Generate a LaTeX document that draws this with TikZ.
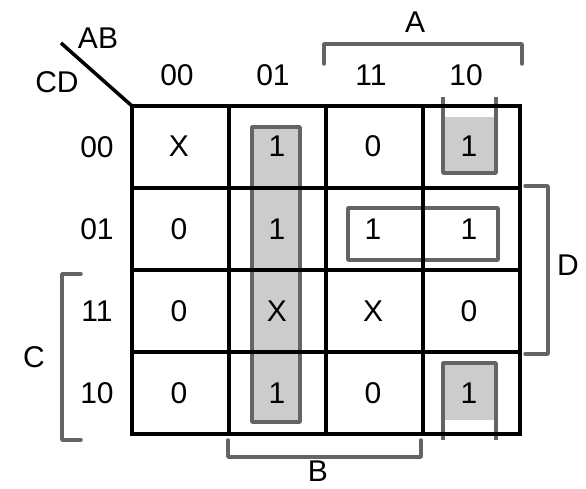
\documentclass[tikz,border=0pt]{standalone}
\usepackage{fontspec}
\setmainfont{Liberation Sans}
\usepackage{tikz}
\usetikzlibrary{positioning}
\usepackage{xcolor}
\definecolor{mygray}{RGB}{100,100,100}
\definecolor{mylight}{RGB}{204,204,204}

\begin{document}
\begin{tikzpicture}[x=1pt,y=-1pt,
  every node/.style={font=\fontsize{30}{36}\selectfont, inner sep=0pt},
  gridline/.style={line width=4pt, line cap=rect},
  groupline/.style={draw=mygray, line width=3.5pt, line join=round},
  bracket/.style={draw=mygray, line width=3.5pt, line join=round, line cap=round}]
  \useasboundingbox (0,0) rectangle (586,488);

  \fill[mylight] (252,127) rectangle (300,422);
  \draw[groupline] (252,127) rectangle (300,422);
  \draw[groupline] (348,208) rectangle (498,260);
  \fill[mylight] (443,117) rectangle (496,173);
  \draw[groupline] (443,97) -- (443,173) -- (496,173) -- (496,97);
  \fill[mylight] (443,363) rectangle (496,420);
  \draw[groupline] (443,440) -- (443,363) -- (496,363) -- (496,440);

  \foreach \x in {132,229,326,423,520} \draw[gridline] (\x,106) -- (\x,434);
  \foreach \y in {106,188,270,352,434} \draw[gridline] (132,\y) -- (520,\y);

  \coordinate (corner) at (132,106);
  \coordinate (tip) at (61,43);
  \draw[line width=3.5pt] (tip) -- (corner);
  \node (ab) at (98,38) {AB};
  \node (cd) at (57,82) {CD};

  \node (h00) at (177,75) {00};
  \node (h01) at (273,75) {01};
  \node (h11) at (371,75) {11};
  \node (h10) at (466,75) {10};
  \node (v00) at (97,147) {00};
  \node (v01) at (97,229) {01};
  \node (v11) at (97,311) {11};
  \node (v10) at (97,393) {10};

  \node (m00-00) at (179,146) {X};
  \node (m00-01) at (277,146) {1};
  \node (m00-11) at (373,146) {0};
  \node (m00-10) at (469,146) {1};
  \node (m01-00) at (179,229) {0};
  \node (m01-01) at (277,229) {1};
  \node (m01-11) at (373,229) {1};
  \node (m01-10) at (469,229) {1};
  \node (m11-00) at (179,311) {0};
  \node (m11-01) at (277,311) {X};
  \node (m11-11) at (373,311) {X};
  \node (m11-10) at (469,311) {0};
  \node (m10-00) at (179,393) {0};
  \node (m10-01) at (277,393) {1};
  \node (m10-11) at (373,393) {0};
  \node (m10-10) at (469,393) {1};

  \draw[bracket] (324,64) -- (324,44) -- (522,44) -- (522,64);
  \node (la) at (415,22) {A};
  \draw[bracket] (228,440) -- (228,457) -- (421,457) -- (421,440);
  \node (lb) at (318,471) {B};
  \draw[bracket] (81,274) -- (62,274) -- (62,440) -- (81,440);
  \node (lc) at (34,357) {C};
  \draw[bracket] (525,186) -- (548,186) -- (548,354) -- (525,354);
  \node (ld) at (568,265) {D};
\end{tikzpicture}
\end{document}
